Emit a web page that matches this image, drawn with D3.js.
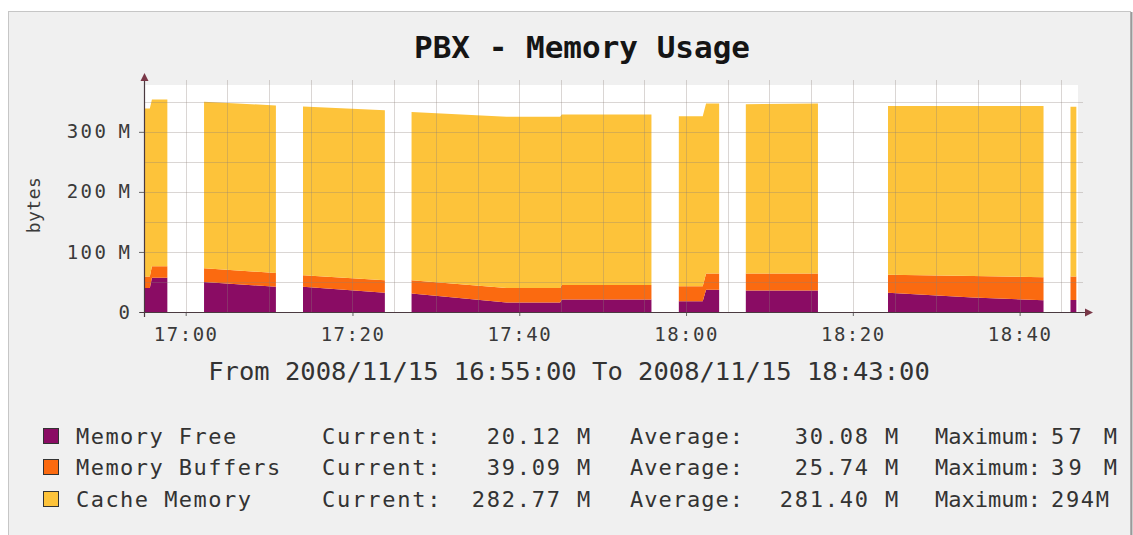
<!DOCTYPE html>
<html>
<head>
<meta charset="utf-8">
<script src="https://cdn.jsdelivr.net/npm/d3@7"></script>
<style>
  html, body { margin: 0; padding: 0; background: #ffffff; }
  svg { display: block; }
  text { font-family: "DejaVu Sans Mono", monospace; }
</style>
</head>
<body>
<svg id="chart" width="1133" height="535"></svg>
<script>
// Sample times (2008/11/15); rows with null values mark gaps in collection.
const times = [
  "16:55:00", "16:55:42", "16:55:57", "16:57:48", "16:59:00",
  "17:02:12", "17:10:49", "17:12:00",
  "17:14:04", "17:23:53", "17:25:30",
  "17:27:05", "17:38:28", "17:44:54", "17:45:06", "17:55:51", "17:57:30",
  "17:59:08", "18:02:00", "18:02:24", "18:03:58", "18:05:30",
  "18:07:10", "18:15:49", "18:20:00",
  "18:24:13", "18:34:22", "18:42:52", "18:44:30",
  "18:46:06", "18:46:48"
];
// Values in megabytes
const memoryFree = [
  40, 40, 57, 57, null,
  50, 42, null,
  42, 32, null,
  31, 16, 16, 21, 21, null,
  18, 18, 37, 37, null,
  36, 36, null,
  32, 24, 19.5, null,
  20.12, 20.12
];
const memoryBuffers = [
  19, 19, 19, 19, null,
  23, 23, null,
  19, 21, null,
  22, 24, 24, 24, 24, null,
  25, 25, 27, 27, null,
  28, 28, null,
  30, 36, 38.5, null,
  39.09, 39.09
];
const cacheMemory = [
  280, 280, 278, 278, null,
  277, 279, null,
  281, 283, null,
  280, 285, 285, 284, 284, null,
  283, 283, 283, 283, null,
  282, 283, null,
  281, 283, 285, null,
  282.77, 282.77
];

const seriesNames = ["Memory Free", "Memory Buffers", "Cache Memory"];
const seriesColors = ["#8a0c64", "#fb6a10", "#fdc33a"];
const currentLabels = ["20.12 M", "39.09 M", "282.77 M"];
const averageLabels = ["30.08 M", "25.74 M", "281.40 M"];
const maximumLabels = ["57 M", "39 M", "294M"];
const xTickTimes = ["17:00", "17:20", "17:40", "18:00", "18:20", "18:40"];
const yTickValues = [0, 100, 200, 300];

const title = "PBX - Memory Usage";
const subtitle = "From 2008/11/15 16:55:00 To 2008/11/15 18:43:00";

const parse = d3.timeParse("%Y/%m/%d %H:%M:%S");
const day = "2008/11/15 ";

const rows = times.map((t, i) => ({
  time: parse(day + t),
  ok: memoryFree[i] !== null,
  free: memoryFree[i] ?? 0,
  buffers: memoryBuffers[i] ?? 0,
  cache: cacheMemory[i] ?? 0
}));

const svg = d3.select("#chart");

// Outer frame
svg.append("rect").attr("x", 8.5).attr("y", 11.5).attr("width", 1122).attr("height", 530)
  .attr("fill", "#f0f0f0").attr("stroke", "#c6c6c6");
svg.append("line").attr("x1", 1131.5).attr("x2", 1131.5).attr("y1", 12).attr("y2", 535)
  .attr("stroke", "#9a9a9a").attr("stroke-width", 2);

const plot = { left: 144, right: 1078, top: 85, bottom: 312 };

const x = d3.scaleTime()
  .domain([parse(day + "16:55:00"), parse(day + "18:47:00")])
  .range([plot.left, plot.right]);
const y = d3.scaleLinear().domain([0, 378]).range([plot.bottom, plot.top]);

// Plot canvas
svg.append("rect").attr("x", plot.left).attr("y", plot.top)
  .attr("width", plot.right - plot.left).attr("height", plot.bottom - plot.top)
  .attr("fill", "#ffffff");

// Stacked areas
const keys = ["free", "buffers", "cache"];
const stacked = d3.stack().keys(keys)(rows);
const area = d3.area()
  .defined(d => d.data.ok)
  .curve(d3.curveLinear)
  .x(d => x(d.data.time))
  .y0(d => y(d[0]))
  .y1(d => y(d[1]));

svg.append("g").selectAll("path").data(stacked).join("path")
  .attr("d", area)
  .attr("fill", (d, i) => seriesColors[i]);

// Grid drawn over the areas
const grid = svg.append("g").attr("stroke", "#8c8078").attr("stroke-opacity", 0.32).attr("stroke-width", 1);
const vTimes = d3.timeMinute.every(5).range(parse(day + "17:00:00"), parse(day + "18:47:00"));
grid.selectAll("line.v").data(vTimes).join("line")
  .attr("class", "v")
  .attr("x1", d => Math.round(x(d)) + 0.5).attr("x2", d => Math.round(x(d)) + 0.5)
  .attr("y1", 80).attr("y2", plot.bottom);
grid.selectAll("line.h").data(d3.range(50, 378, 50)).join("line")
  .attr("class", "h")
  .attr("x1", plot.left).attr("x2", 1083)
  .attr("y1", d => Math.round(y(d)) + 0.5).attr("y2", d => Math.round(y(d)) + 0.5);

// Axes: tick numbers right-aligned, with the unit in its own column
const yAxis = d3.axisLeft(y).tickValues(yTickValues).tickSize(5).tickPadding(9)
  .tickFormat(d => String(d));
const gy = svg.append("g").attr("transform", `translate(${plot.left},0)`).call(yAxis);
gy.select(".domain").remove();
gy.selectAll(".tick line").attr("stroke", "#666");
gy.selectAll(".tick text")
  .attr("fill", "#3a3a3a").style("font-size", "19px").style("letter-spacing", "2.5px")
  .attr("x", d => d === 0 ? -11.5 : -35.5);
gy.selectAll(".tick").filter(d => d !== 0).append("text")
  .attr("x", -14).attr("dy", "0.32em").attr("text-anchor", "end")
  .attr("fill", "#3a3a3a").style("font-size", "19px")
  .text("M");

const xAxis = d3.axisBottom(x)
  .tickValues(xTickTimes.map(t => parse(day + t + ":00")))
  .tickSize(4).tickPadding(12)
  .tickFormat(d3.timeFormat("%H:%M"));
const gx = svg.append("g").attr("transform", `translate(0,${plot.bottom})`).call(xAxis);
gx.select(".domain").remove();
gx.selectAll(".tick line").attr("stroke", "#666");
gx.selectAll(".tick text")
  .attr("fill", "#3a3a3a").style("font-size", "19px").style("letter-spacing", "1.5px");

// Axis lines with arrows
svg.append("line").attr("x1", plot.left + 0.5).attr("x2", plot.left + 0.5)
  .attr("y1", plot.bottom + 5).attr("y2", 80).attr("stroke", "#4a3a40").attr("stroke-width", 1.2);
svg.append("line").attr("x1", plot.left - 4).attr("x2", 1086)
  .attr("y1", plot.bottom + 0.5).attr("y2", plot.bottom + 0.5).attr("stroke", "#4a3a40").attr("stroke-width", 1.2);
svg.append("path").attr("d", `M${plot.left + 0.5},73 L${plot.left - 3.5},81 L${plot.left + 4.5},81 Z`)
  .attr("fill", "#7a3848");
svg.append("path").attr("d", `M1093,${plot.bottom + 0.5} L1085,${plot.bottom - 3.5} L1085,${plot.bottom + 4.5} Z`)
  .attr("fill", "#7a3848");

// Y axis title
svg.append("text").attr("transform", "translate(40,205) rotate(-90)")
  .attr("text-anchor", "middle").attr("fill", "#3a3a3a")
  .style("font-size", "18px").style("letter-spacing", "0.5px").text("bytes");

// Title and time range
svg.append("text").attr("x", 582).attr("y", 58).attr("text-anchor", "middle")
  .attr("fill", "#151515").style("font-size", "31px").style("font-weight", "bold").text(title);
svg.append("text").attr("x", 569).attr("y", 380).attr("text-anchor", "middle")
  .attr("fill", "#333").style("font-size", "25.5px").text(subtitle);

// Legend
const rowY = [436, 467, 499];
const legend = svg.append("g").style("font-size", "22px").attr("fill", "#333");
seriesNames.forEach((name, i) => {
  const cy = rowY[i];
  const base = cy + 8;
  legend.append("rect").attr("x", 43.5).attr("y", cy - 7.5).attr("width", 15).attr("height", 15)
    .attr("fill", seriesColors[i]).attr("stroke", "#333");
  legend.append("text").attr("x", 76).attr("y", base).style("letter-spacing", "1.45px").text(name);
  legend.append("text").attr("x", 322).attr("y", base).style("letter-spacing", "1.8px").text("Current:");
  legend.append("text").attr("x", 592).attr("y", base).attr("text-anchor", "end")
    .style("letter-spacing", "1.8px").text(currentLabels[i]);
  legend.append("text").attr("x", 630).attr("y", base).style("letter-spacing", "1px").text("Average:");
  legend.append("text").attr("x", 900).attr("y", base).attr("text-anchor", "end")
    .style("letter-spacing", "1.8px").text(averageLabels[i]);
  legend.append("text").attr("x", 935).attr("y", base).style("letter-spacing", "0px").text("Maximum:");
  legend.append("text").attr("x", 1051).attr("y", base)
    .attr("textLength", i === 2 ? 58 : 66).attr("lengthAdjust", "spacing")
    .text(maximumLabels[i]);
});
</script>
</body>
</html>
